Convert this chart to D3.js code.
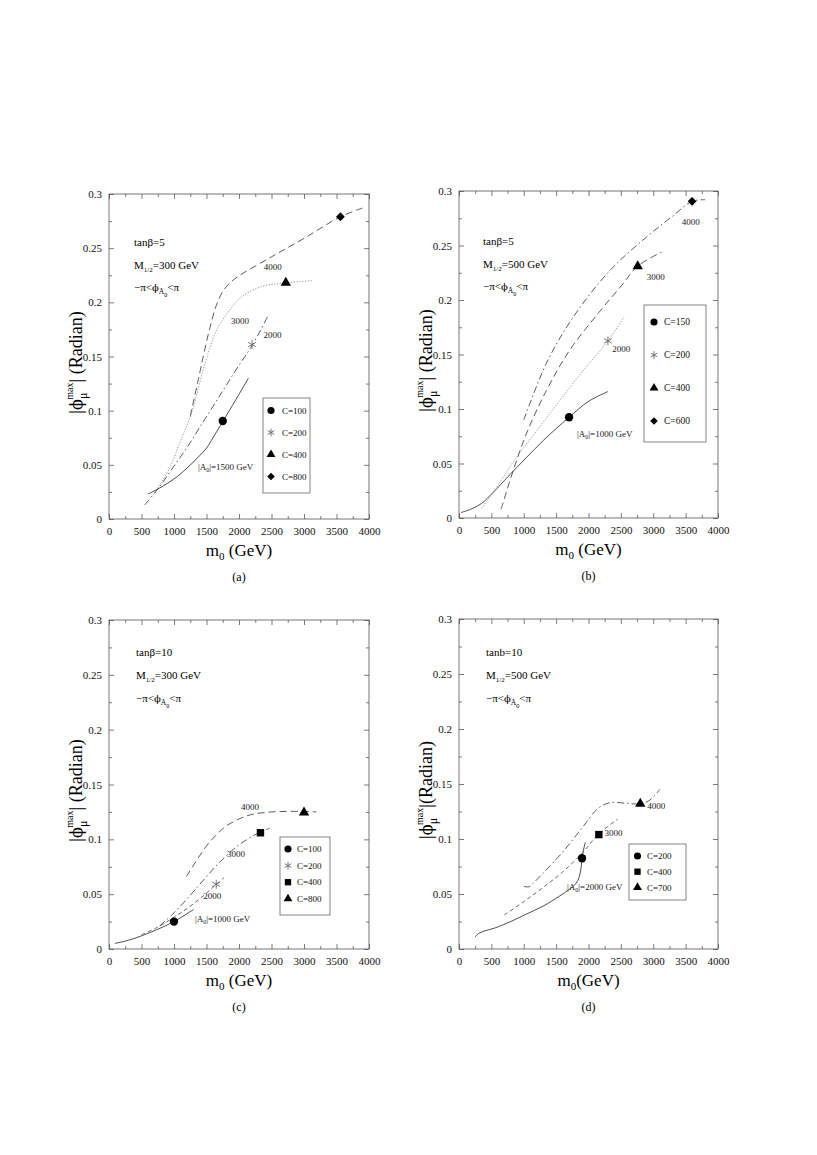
<!DOCTYPE html>
<html>
<head>
<meta charset="utf-8">
<script src="https://cdn.jsdelivr.net/npm/d3@7"></script>
<style>
  body { margin: 0; background: #fff; }
  svg { display: block; }
</style>
</head>
<body>
<div id="chart"></div>
<script>
// ---- axis ticks ----
const xTicks = [0, 500, 1000, 1500, 2000, 2500, 3000, 3500, 4000];
const xTickLabels = ["0", "500", "1000", "1500", "2000", "2500", "3000", "3500", "4000"];
const yTicks = [0, 0.05, 0.1, 0.15, 0.2, 0.25, 0.3];
const yTickLabels = ["0", "0.05", "0.1", "0.15", "0.2", "0.25", "0.3"];

// ---- (a) tanβ=5, M1/2=300 GeV  [m0, |phi_mu max|] ----
const aA1500 = [[600,0.023],[780,0.0286],[1000,0.037],[1200,0.047],[1500,0.0655],[1600,0.075],[1750,0.090],[1950,0.110],[2145,0.130]];
const aA2000 = [[550,0.013],[780,0.030],[990,0.048],[1200,0.066],[1400,0.085],[1600,0.104],[1800,0.123],[2000,0.142],[2210,0.161],[2450,0.188]];
const aA3000 = [[710,0.024],[940,0.048],[1100,0.072],[1270,0.098],[1480,0.144],[1660,0.175],[1860,0.193],[2020,0.204],[2320,0.214],[2720,0.218],[3140,0.220]];
const aA4000 = [[1250,0.095],[1350,0.122],[1450,0.150],[1550,0.176],[1650,0.197],[1760,0.211],[1880,0.219],[2000,0.2245],[2500,0.242],[3000,0.259],[3560,0.279],[3900,0.287]];
const aMarkers = [[1750,0.0905],[2200,0.161],[2720,0.218],[3560,0.279]];
const aLegend = ["C=100", "C=200", "C=400", "C=800"];

// ---- (b) tanβ=5, M1/2=500 GeV ----
const bA1000 = [[30,0.005],[180,0.008],[350,0.0135],[520,0.023],[790,0.040],[1050,0.056],[1300,0.071],[1500,0.082],[1700,0.0924],[2000,0.107],[2300,0.116]];
const bA2000 = [[350,0.009],[600,0.030],[890,0.056],[1200,0.080],[1560,0.108],[1900,0.134],[2300,0.1625],[2550,0.1845]];
const bA3000 = [[650,0.008],[840,0.044],[1045,0.078],[1350,0.117],[1710,0.154],[2180,0.190],[2500,0.2125],[2760,0.231],[3130,0.244]];
const bA4000 = [[1000,0.090],[1350,0.142],[1760,0.184],[2330,0.227],[2900,0.258],[3300,0.277],[3600,0.2905],[3800,0.292]];
const bMarkers = [[1700,0.0924],[2300,0.1625],[2760,0.231],[3600,0.2905]];
const bLegend = ["C=150", "C=200", "C=400", "C=600"];

// ---- (c) tanβ=10, M1/2=300 GeV ----
const cA1000 = [[90,0.005],[300,0.008],[500,0.012],[750,0.018],[1000,0.025],[1300,0.036]];
const cA2000 = [[500,0.013],[750,0.020],[1000,0.029],[1250,0.039],[1500,0.051],[1650,0.059],[1770,0.065]];
const cA3000 = [[780,0.021],[1000,0.033],[1250,0.049],[1500,0.066],[1750,0.082],[2000,0.095],[2320,0.1065],[2470,0.110]];
const cA4000 = [[1190,0.066],[1350,0.081],[1500,0.094],[1650,0.104],[1800,0.112],[2100,0.121],[2400,0.1245],[2990,0.1255],[3190,0.125]];
const cMarkers = [[1000,0.025],[1650,0.059],[2330,0.106],[3000,0.1245]];
const cLegend = ["C=100", "C=200", "C=400", "C=800"];

// ---- (d) tanb=10, M1/2=500 GeV ----
const dA2000 = [[250,0.011],[300,0.014],[400,0.0165],[550,0.019],[800,0.025],[1050,0.032],[1300,0.039],[1550,0.048],[1700,0.054],[1800,0.059],[1860,0.066],[1890,0.076],[1910,0.086],[1950,0.097]];
const dA3000 = [[700,0.031],[1000,0.043],[1300,0.056],[1600,0.070],[1900,0.087],[2150,0.104],[2450,0.118]];
const dA4000 = [[1000,0.057],[1080,0.0565],[1150,0.060],[1300,0.069],[1600,0.088],[1900,0.110],[2150,0.128],[2330,0.133],[2580,0.1325],[2800,0.132],[2950,0.1355],[3100,0.145]];
const dMarkers = [[1900,0.0825],[2160,0.104],[2800,0.132]];
const dLegend = ["C=200", "C=400", "C=700"];

// line styles
const styles = {
  solid:    { dash: null,          color: "#222" },
  longDash: { dash: "7,4",         color: "#333" },
  dashDot:  { dash: "7,3,1.5,3",   color: "#333" },
  dotted:   { dash: "1.2,1.6",     color: "#777" },
  shortDash:{ dash: "4,3",         color: "#444" }
};

const SERIF = "'Liberation Serif', 'Times New Roman', serif";
const PHI_FONT = "'DejaVu Serif', serif";

const panels = [
  { tag: "(a)", left: 109, top: 194, w: 260, h: 325, tan: "tanβ=5", m12: "300", gap: true,
    series: [[aA1500,"solid"],[aA2000,"dashDot"],[aA3000,"dotted"],[aA4000,"longDash"]],
    markers: aMarkers, symbols: ["circle","star","triangle","diamond"], legend: aLegend,
    box: { x: 154, y: 204, w: 47, h: 95, step: 22, first: 12.5, mx: 8, tx: 19, fs: 9 },
    note: { x: 25, y: 52, step: 22.5 },
    labels: [["4000",2520,0.230],["3000",2015,0.180],["2000",2515,0.167],["A",1368,0.045]],
    aLabel: "1500" },
  { tag: "(b)", left: 459, top: 191, w: 259, h: 327, tan: "tanβ=5", m12: "500", gap: true,
    series: [[bA1000,"solid"],[bA2000,"dotted"],[bA3000,"longDash"],[bA4000,"dashDot"]],
    markers: bMarkers, symbols: ["circle","star","triangle","diamond"], legend: bLegend,
    box: { x: 185, y: 114, w: 62, h: 137, step: 33, first: 17, mx: 10, tx: 20, fs: 9.5 },
    note: { x: 24, y: 54, step: 22.5 },
    labels: [["4000",3580,0.269],["3000",3040,0.218],["2000",2505,0.152],["A",1822,0.074]],
    aLabel: "1000" },
  { tag: "(c)", left: 109, top: 620, w: 260, h: 329, tan: "tanβ=10", m12: "300", gap: true,
    series: [[cA1000,"solid"],[cA2000,"shortDash"],[cA3000,"dashDot"],[cA4000,"longDash"]],
    markers: cMarkers, symbols: ["circle","star","square","triangle"], legend: cLegend,
    box: { x: 171, y: 217, w: 50, h: 78, step: 16.6, first: 12, mx: 8, tx: 17, fs: 9 },
    note: { x: 27, y: 36, step: 23 },
    labels: [["4000",2170,0.127],["3000",1955,0.084],["2000",1590,0.046],["A",1322,0.025]],
    aLabel: "1000" },
  { tag: "(d)", left: 459, top: 619, w: 259, h: 330, tan: "tanb=10", m12: "500", gap: false,
    series: [[dA2000,"solid"],[dA3000,"shortDash"],[dA4000,"dashDot"]],
    markers: dMarkers, symbols: ["circle","square","triangle"], legend: dLegend,
    box: { x: 170, y: 225, w: 57, h: 56, step: 15.7, first: 12, mx: 8.5, tx: 18, fs: 9 },
    note: { x: 27, y: 37, step: 23 },
    labels: [["4000",3045,0.127],["3000",2385,0.103],["A",1668,0.054]],
    aLabel: "2000" }
];

const svg = d3.select("#chart").append("svg")
  .attr("width", 817).attr("height", 1155)
  .style("font-family", SERIF);

function symbolOf(name) {
  return { circle: d3.symbolCircle, star: d3.symbolAsterisk, triangle: d3.symbolTriangle,
           diamond: d3.symbolSquare, square: d3.symbolSquare }[name];
}

function addMarker(g, name, cx, cy, size) {
  const sz = name === "triangle" ? size * 0.85 : name === "diamond" ? size * 0.7 : size;
  const p = g.append("path")
    .attr("transform", `translate(${cx},${cy})` + (name === "diamond" ? " rotate(45)" : ""))
    .attr("d", d3.symbol().type(symbolOf(name)).size(sz)());
  if (name === "star") p.attr("fill", "none").attr("stroke", "#666").attr("stroke-width", 0.9);
  else p.attr("fill", "#000");
}

panels.forEach(p => {
  const g = svg.append("g").attr("transform", `translate(${p.left},${p.top})`);
  const x = d3.scaleLinear().domain([0, 4000]).range([0, p.w]);
  const y = d3.scaleLinear().domain([0, 0.3]).range([p.h, 0]);
  const xMinor = d3.range(250, 4000, 500);
  const yMinor = d3.range(0.025, 0.3, 0.05);

  // major + minor ticks on all four sides (pointing in)
  const sides = [
    [d3.axisBottom(x), `translate(0,${p.h})`, xTicks, xMinor, true],
    [d3.axisTop(x), null, xTicks, xMinor, false],
    [d3.axisLeft(y), null, yTicks, yMinor, true],
    [d3.axisRight(y), `translate(${p.w},0)`, yTicks, yMinor, false]
  ];
  sides.forEach(([axis, tr, major, minor, labelled], i) => {
    const isX = i < 2;
    const labels = isX ? xTickLabels : yTickLabels;
    const ga = g.append("g").call(axis.tickValues(major).tickSizeInner(-5).tickSizeOuter(0)
      .tickPadding(isX ? 8 : 7)
      .tickFormat((d, k) => labelled ? labels[k] : ""));
    if (tr) ga.attr("transform", tr);
    const gm = g.append("g").call(axis.tickValues(minor).tickSizeInner(-3).tickFormat(""));
    if (tr) gm.attr("transform", tr);
    [ga, gm].forEach(s => {
      s.select(".domain").remove();
      s.selectAll("line").attr("stroke", "#444").attr("stroke-width", 0.7);
      s.selectAll("text").style("font-family", SERIF).style("font-size", "11px").attr("fill", "#111");
    });
  });

  g.append("rect").attr("width", p.w).attr("height", p.h)
    .attr("fill", "none").attr("stroke", "#555").attr("stroke-width", 0.8);

  // curves
  const line = d3.line().x(d => x(d[0])).y(d => y(d[1])).curve(d3.curveCatmullRom.alpha(0.5));
  p.series.forEach(([data, st]) => {
    g.append("path").attr("d", line(data))
      .attr("fill", "none")
      .attr("stroke", styles[st].color)
      .attr("stroke-width", 0.8)
      .attr("stroke-dasharray", styles[st].dash);
  });

  // markers on curves
  p.markers.forEach((m, i) => addMarker(g, p.symbols[i], x(m[0]), y(m[1]), 55));

  // curve labels
  p.labels.forEach(([t, lx, ly]) => {
    if (t === "A") {
      const tx = g.append("text").attr("x", x(lx)).attr("y", y(ly))
        .style("font-size", "9px").attr("fill", "#222");
      tx.append("tspan").text("|A");
      tx.append("tspan").attr("dy", 2).style("font-size", "6px").text("0");
      tx.append("tspan").attr("dy", -2).text(`|=${p.aLabel} GeV`);
    } else {
      g.append("text").attr("x", x(lx)).attr("y", y(ly)).attr("text-anchor", "middle")
        .style("font-size", "9px").attr("fill", "#222").text(t);
    }
  });

  // parameter notes
  const n = p.note;
  g.append("text").attr("x", n.x).attr("y", n.y).style("font-size", "11px").text(p.tan);
  const t2 = g.append("text").attr("x", n.x).attr("y", n.y + n.step).style("font-size", "11px");
  t2.append("tspan").text("M");
  t2.append("tspan").attr("dy", 3).style("font-size", "7px").text("1/2");
  t2.append("tspan").attr("dy", -3).text(`=${p.m12} GeV`);
  const t3 = g.append("text").attr("x", n.x).attr("y", n.y + 2 * n.step).style("font-size", "11px")
    .attr("fill", "#000");
  t3.append("tspan").text("−π<");
  t3.append("tspan").style("font-family", PHI_FONT).style("font-size", "10px").text("ϕ");
  t3.append("tspan").attr("dy", 3).style("font-size", "7.5px").text("A");
  t3.append("tspan").attr("dy", 3).style("font-size", "6px").text("0");
  t3.append("tspan").attr("dy", -6).text("<π");

  // legend box
  const b = p.box;
  const lg = g.append("g").attr("transform", `translate(${b.x},${b.y})`);
  lg.append("rect").attr("width", b.w).attr("height", b.h)
    .attr("fill", "#fff").attr("stroke", "#666").attr("stroke-width", 0.8);
  p.legend.forEach((lab, i) => {
    const cy = b.first + i * b.step;
    addMarker(lg, p.symbols[i], b.mx, cy, 40);
    lg.append("text").attr("x", b.tx).attr("y", cy).attr("dy", "0.35em")
      .style("font-size", b.fs + "px").attr("fill", "#111").text(lab);
  });

  // y axis title
  const yl = g.append("text")
    .attr("transform", `translate(-27,${p.h / 2 + 6}) rotate(-90)`)
    .attr("text-anchor", "middle").style("font-size", "18px").attr("fill", "#000");
  yl.append("tspan").text("|");
  yl.append("tspan").style("font-family", PHI_FONT).style("font-size", "16px").text("ϕ");
  yl.append("tspan").attr("dy", 5).style("font-size", "12px").text("μ");
  yl.append("tspan").attr("dx", -7).attr("dy", -14).style("font-size", "10px").text("max");
  yl.append("tspan").attr("dy", 9).text(p.gap ? "| (Radian)" : "|(Radian)");

  // x axis title
  const xl = g.append("text").attr("x", p.w / 2).attr("y", p.h + 37)
    .attr("text-anchor", "middle").style("font-size", "17px");
  xl.append("tspan").text("m");
  xl.append("tspan").attr("dy", 4).style("font-size", "11px").text("0");
  xl.append("tspan").attr("dy", -4).text(p.gap ? " (GeV)" : "(GeV)");

  // caption
  g.append("text").attr("x", p.w / 2).attr("y", p.h + 62)
    .attr("text-anchor", "middle").style("font-size", "12px").text(p.tag);
});
</script>
</body>
</html>
